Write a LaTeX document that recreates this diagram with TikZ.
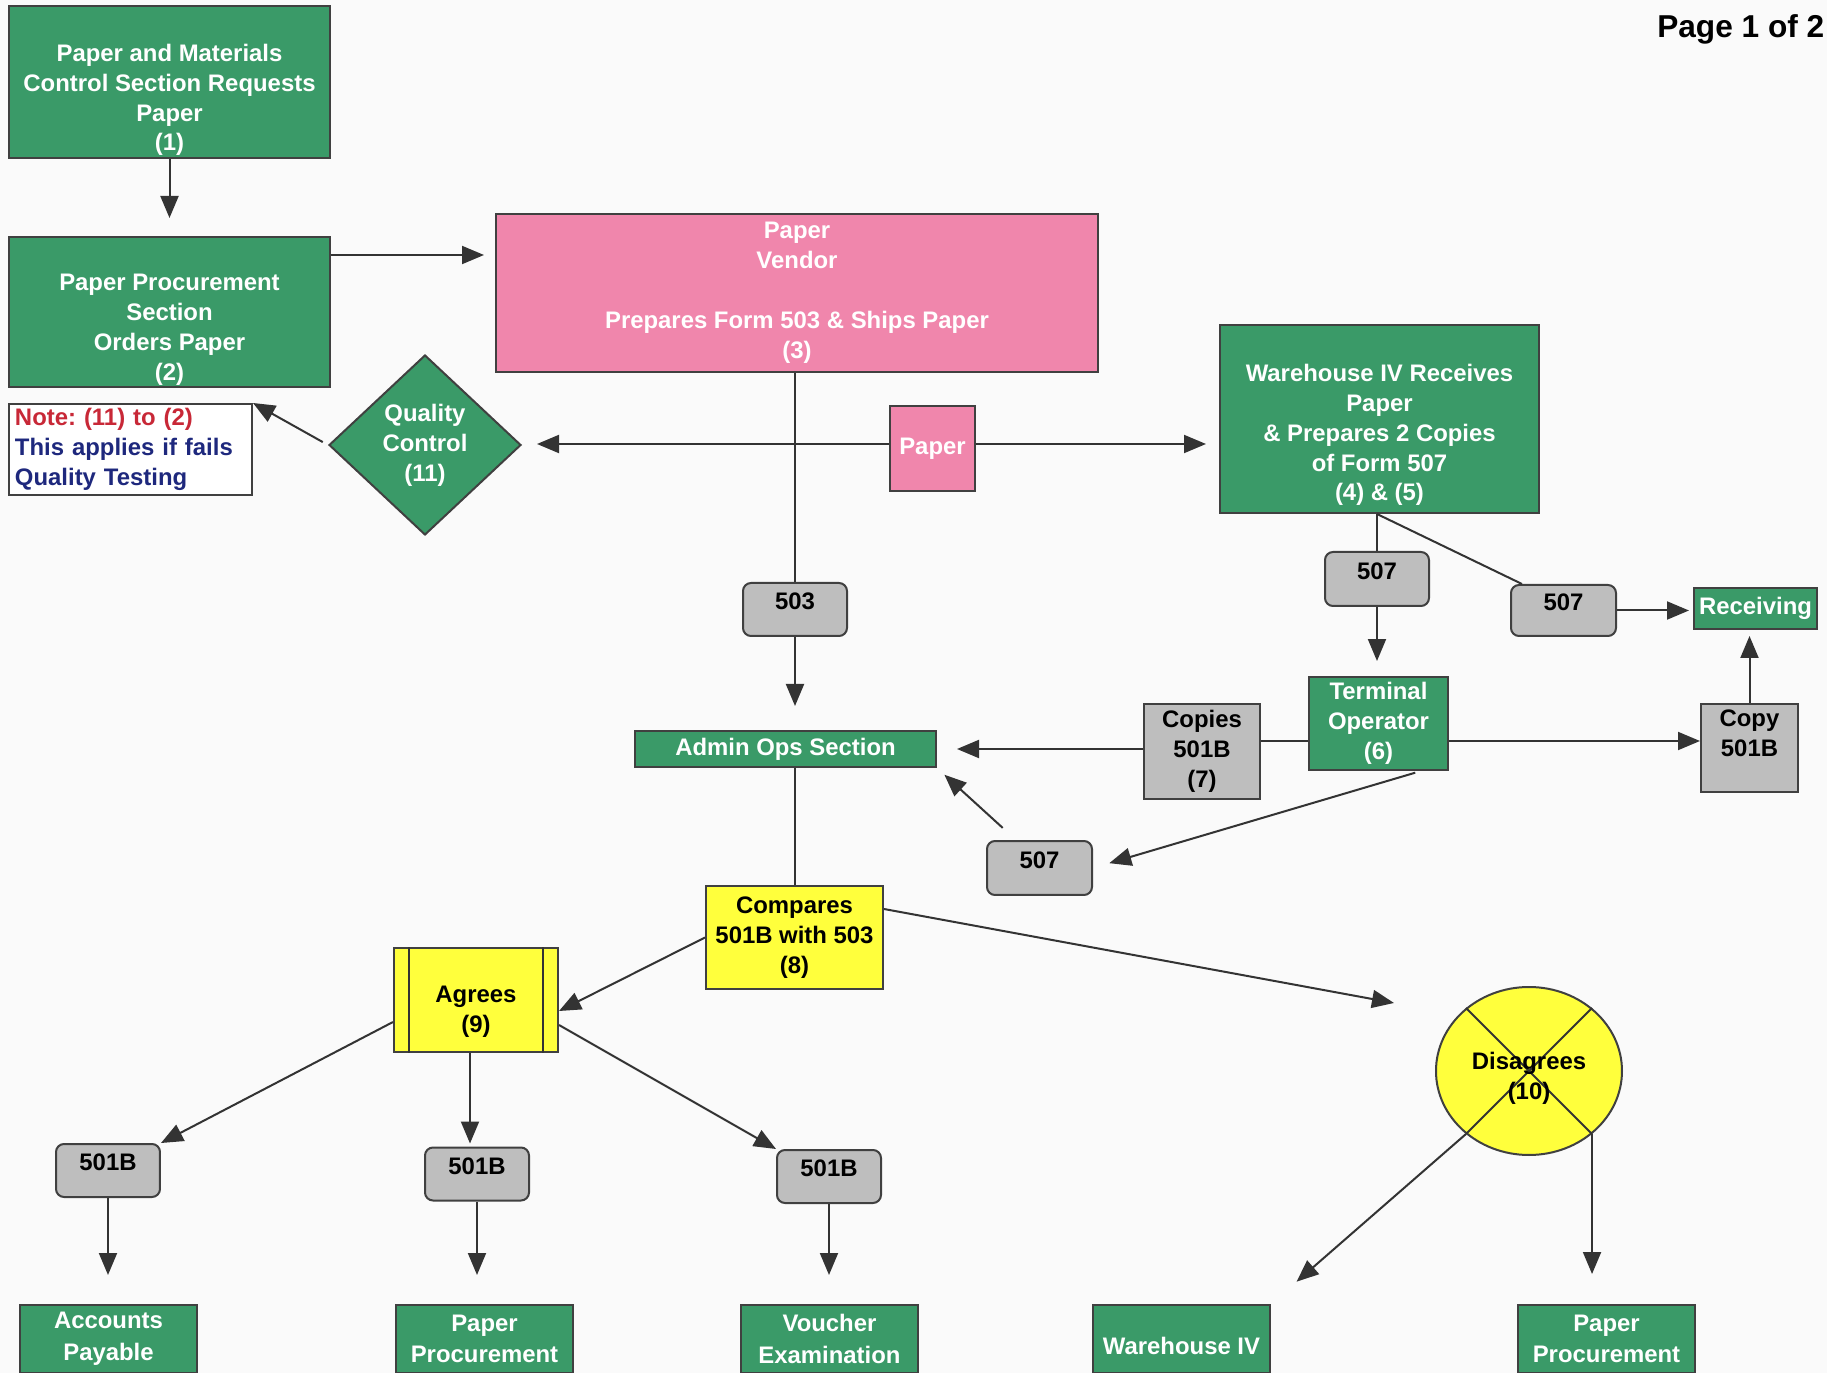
\documentclass[tikz,border=0pt]{standalone}
\usepackage{fontspec}
\setmainfont{Liberation Sans}
\frenchspacing
\usetikzlibrary{arrows.meta,shapes.geometric}
\definecolor{flowgreen}{RGB}{58,154,104}
\definecolor{flowpink}{RGB}{240,134,172}
\definecolor{flowyellow}{RGB}{255,255,60}
\definecolor{formgray}{RGB}{190,190,190}
\definecolor{notered}{RGB}{200,40,55}
\definecolor{noteblue}{RGB}{30,40,125}
\definecolor{pagebg}{RGB}{250,250,250}
\begin{document}
\begin{tikzpicture}[x=0.1mm, y=-0.1mm,
    box/.style={draw=black!75, line width=0.2mm, inner sep=0.4mm, align=center,
      font=\bfseries\fontsize{6.8}{8.5}\selectfont},
    greenbox/.style={box, fill=flowgreen, text=white},
    greentext/.style={align=center, text=white, inner sep=0pt,
      font=\bfseries\fontsize{6.8}{8.5}\selectfont},
    pinkbox/.style={box, fill=flowpink, text=white},
    yellowbox/.style={box, fill=flowyellow, text=black},
    formbox/.style={box, fill=formgray, rounded corners=0.8mm, minimum width=10.4mm,
      minimum height=5.3mm, text depth=1.6mm},
    copybox/.style={box, fill=formgray},
    endbox/.style={greenbox, minimum width=17.7mm, minimum height=6.8mm,
      font=\bfseries\fontsize{6.8}{9}\selectfont},
    arr/.style={-{Triangle[length=2.2mm, width=1.8mm]}, line width=0.2mm, draw=black!80},
    link/.style={line width=0.2mm, draw=black!80}]
\useasboundingbox (0,0) rectangle (1827,1373);
\fill [pagebg] (0,0) rectangle (1827,1373);

\node [anchor=east, inner sep=0pt, font=\bfseries\fontsize{9}{11}\selectfont] (page) at (1825,29) {Page 1 of 2};

\node [greenbox, minimum width=32.1mm, minimum height=15.2mm] (req) at (169.5,82) {};
\node [greentext] (req-txt) at (169.5,100) {Paper and Materials\\Control Section Requests\\Paper\\(1)};
\node [greenbox, minimum width=32.1mm, minimum height=15mm] (order) at (169.5,312) {};
\node [greentext] (order-txt) at (169.5,330) {Paper Procurement\\Section\\Orders Paper\\(2)};
\node [pinkbox, minimum width=60.2mm, minimum height=15.8mm] (vendor) at (797,293)
  {Paper\\Vendor\\[3mm]Prepares Form 503 \& Ships Paper\\(3)};
\node [box, fill=white, minimum width=24.3mm, minimum height=9.1mm, text width=23.1mm,
  inner xsep=0.6mm, align=left] (note) at (130.5,449.5)
  {\textcolor{notered}{Note: (11) to (2)}\\\textcolor{noteblue}{This applies if fails}\\\textcolor{noteblue}{Quality Testing}};
\node [greenbox, diamond, aspect=1.07, inner sep=0pt, minimum width=19.2mm, minimum height=18mm] (qc) at (425,445)
  {Quality\\Control\\(11)};
\node [pinkbox, minimum width=8.5mm, minimum height=8.5mm] (paper) at (932.5,449) {Paper};
\node [greenbox, minimum width=31.9mm, minimum height=18.8mm] (ware) at (1379.5,419) {};
\node [greentext] (ware-txt) at (1379.5,435) {Warehouse IV Receives\\Paper\\\& Prepares 2 Copies\\of Form 507\\(4) \& (5)};

\node [formbox] (f503) at (795,609.5) {503};
\node [greenbox, minimum width=30.1mm, minimum height=3.6mm] (admin) at (785.5,749) {Admin Ops Section};
\node [formbox, minimum height=5.4mm] (f507a) at (1377,579) {507};
\node [formbox, minimum width=10.5mm, minimum height=5.1mm] (f507b) at (1563.5,610.5) {507};
\node [greenbox, minimum width=12.3mm, minimum height=4.1mm] (recv) at (1755.5,608.5) {Receiving};
\node [greenbox, minimum width=13.9mm, minimum height=9.3mm] (term) at (1378.5,723.5) {Terminal\\Operator\\(6)};
\node [copybox, minimum width=11.6mm, minimum height=9.5mm] (copies) at (1202,751.5) {Copies\\501B\\(7)};
\node [copybox, minimum width=9.7mm, minimum height=8.8mm] (copy) at (1749.5,748) {Copy\\501B\\ \mbox{}};
\node [formbox, minimum width=10.5mm, minimum height=5.4mm] (f507c) at (1039.5,868) {507};

\node [yellowbox, minimum width=17.7mm, minimum height=10.3mm] (comp) at (794.5,937.5) {Compares\\501B with 503\\(8)};
\node [yellowbox, minimum width=16.4mm, minimum height=10.4mm] (agree) at (476,1000) {};
\node [align=center, inner sep=0pt, font=\bfseries\fontsize{6.8}{8.5}\selectfont] (agree-txt) at (476,1012) {Agrees\\(9)};
\draw [link] ([xshift=1.6mm]agree.north west) -- ([xshift=1.6mm]agree.south west);
\draw [link] ([xshift=-1.6mm]agree.north east) -- ([xshift=-1.6mm]agree.south east);
\node [yellowbox, ellipse, inner sep=0pt, minimum width=18.6mm, minimum height=16.8mm] (dis) at (1529,1071) {};
\draw [link] (dis.135) -- (dis.-45);
\draw [link] (dis.45) -- (dis.225);
\node [align=center, inner sep=0pt, font=\bfseries\fontsize{6.8}{8.5}\selectfont] (dis-txt) at (1529,1078) {Disagrees\\(10)};

\node [formbox] (fb1) at (108,1170.5) {501B};
\node [formbox] (fb2) at (477,1174) {501B};
\node [formbox] (fb3) at (829,1176.5) {501B};

\node [endbox] (pay) at (108.5,1339) {Accounts\\Payable};
\node [endbox] (pp1) at (484.5,1339) {Paper\\Procurement};
\node [endbox] (ve) at (829.5,1339) {Voucher\\Examination};
\node [endbox] (wh4) at (1181.5,1339) {\mbox{}\\Warehouse IV};
\node [endbox] (pp2) at (1606.5,1339) {Paper\\Procurement};

\draw [arr, shorten >=1.8mm] (req) -- (order);
\coordinate (ordout) at ([yshift=5.7mm]order.east);
\draw [arr, shorten >=1.1mm] (ordout) -- (ordout -| vendor.west);
\draw [link] (f503 |- vendor.south) -- (f503.north);
\draw [arr, shorten >=2.4mm] (f503.south) -- (f503 |- admin.north);
\coordinate (pline) at ([yshift=0.5mm]paper.center);
\draw [arr, shorten >=1.5mm] (paper.west |- pline) -- (qc.east |- pline);
\draw [arr, shorten >=1.3mm] (paper.east |- pline) -- (ware.west |- pline);
\draw [arr, shorten <=0.6mm] (qc.west) -- (note.north east);

\coordinate (wout) at (f507a |- ware.south);
\draw [link] (wout) -- (f507a.north);
\draw [link] (wout) -- ([xshift=1.2mm]f507b.north west);
\draw [arr, shorten >=1.5mm] (f507a.south) -- (f507a |- term.north);
\draw [arr, shorten >=0.4mm] (f507b.east) -- (f507b.east -| recv.west);
\coordinate (tline) at ([yshift=-1.75mm]term.center);
\draw [link] (term.west |- tline) -- (copies.east |- tline);
\draw [arr] (term.east |- tline) -- (copy.west |- tline);
\draw [arr, shorten >=0.6mm] (copy.north) -- (copy |- recv.south);
\draw [arr, shorten >=2mm] (copies.west |- admin) -- (admin.east);
\draw [arr, shorten <=0.6mm, shorten >=1.7mm] ([xshift=4.25mm]term.south) -- (f507c.east);
\draw [arr, shorten <=1.8mm, shorten >=1mm] ([xshift=-2.35mm]f507c.north) -- (admin.south east);

\draw [link] (comp |- admin.south) -- (comp.north);
\draw [arr] (comp.west) -- ([yshift=-1.1mm]agree.east);
\coordinate (disin) at (1394,1003);
\draw [arr] ([yshift=2.85mm]comp.east) -- (disin);
\draw [arr] ([yshift=-2.2mm]agree.west) -- (fb1.north east);
\draw [arr, shorten >=0.3mm] ([xshift=-0.6mm]agree.south) -- ([xshift=-0.6mm]agree.south |- fb2.north);
\draw [arr] ([yshift=-2.5mm]agree.east) -- (fb3.north west);
\draw [arr, shorten >=2.9mm] (fb1) -- (fb1 |- pay.north);
\draw [arr, shorten >=2.9mm] (fb2) -- (fb2 |- pp1.north);
\draw [arr, shorten >=2.9mm] (fb3) -- (fb3 |- ve.north);
\draw [arr, shorten >=3.4mm] (dis.225) -- (wh4.north east);
\draw [arr, shorten >=3mm] (dis.-45) -- (dis.-45 |- pp2.north);
\end{tikzpicture}
\end{document}
